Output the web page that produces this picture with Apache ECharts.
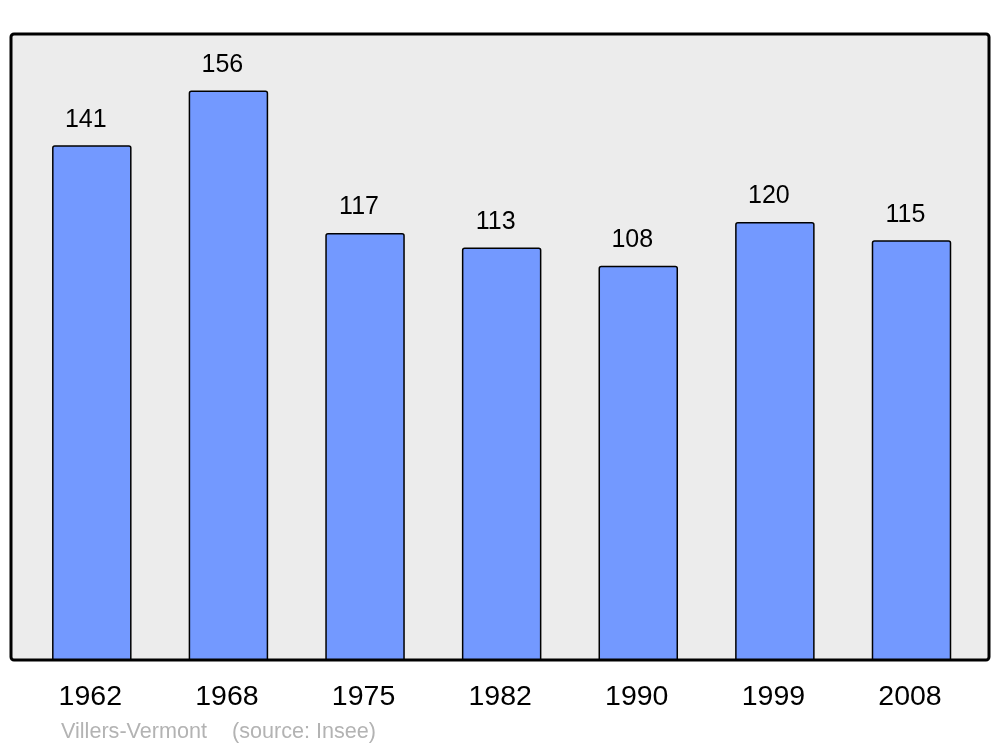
<!DOCTYPE html>
<html><head><meta charset="utf-8">
<script src="https://cdn.jsdelivr.net/npm/echarts@6/dist/echarts.min.js"></script>
<style>html,body{margin:0;padding:0;background:#fff}#c{width:1000px;height:747px}</style>
</head><body><div id="c"></div>
<script>
const years = ['1962','1968','1975','1982','1990','1999','2008'];
const population = [141,156,117,113,108,120,115];
const placeName = 'Villers-Vermont';
const sourceText = '(source: Insee)';

const chart = echarts.init(document.getElementById('c'), null, {renderer:'canvas'});
chart.setOption({
  animation:false,
  backgroundColor:'#ffffff',
  textStyle:{fontFamily:'Liberation Sans, Arial, sans-serif'},
  grid:{left:23.5, right:20.2, top:34, bottom:87},
  graphic:[
    {type:'rect', z:-10, shape:{x:11, y:34, width:978, height:626, r:3},
     style:{fill:'#ececec', stroke:'#000', lineWidth:3}},
    {type:'text', left:61, top:721, style:{text:placeName, fill:'#b3b3b3', font:'21.6px "Liberation Sans", Arial, sans-serif'}},
    {type:'text', left:232, top:721, style:{text:sourceText, fill:'#b3b3b3', font:'21.6px "Liberation Sans", Arial, sans-serif'}}
  ],
  xAxis:{type:'category', data:years,
    axisLine:{show:false}, axisTick:{show:false},
    axisLabel:{color:'#000', fontSize:28.5, margin:23, lineHeight:28, padding:[0,3,0,0], fontFamily:'Liberation Sans, Arial, sans-serif'}},
  yAxis:{type:'value', min:0, max:171.5, show:false, splitLine:{show:false}},
  series:[{type:'bar', data:population, barWidth:79.5,
    itemStyle:{color:'#7399ff', borderColor:'#000', borderWidth:1.5, borderRadius:[2,2,0,0]},
    label:{show:true, position:'top', distance:13, offset:[-6,0], color:'#000', fontSize:25, lineHeight:25, fontFamily:'Liberation Sans, Arial, sans-serif'}
  }]
});
</script></body></html>
